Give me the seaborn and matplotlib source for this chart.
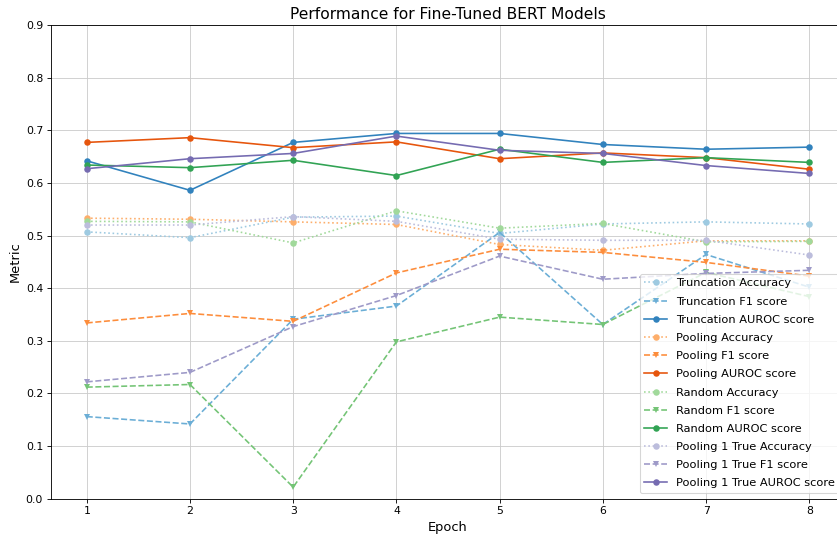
import matplotlib
matplotlib.use('Agg')
import matplotlib.pyplot as plt
import seaborn as sns

epochs = [1, 2, 3, 4, 5, 6, 7, 8]

trunc_acc = [0.507, 0.496, 0.535, 0.537, 0.504, 0.522, 0.526, 0.522]
trunc_f1 = [0.156, 0.142, 0.341, 0.366, 0.506, 0.331, 0.464, 0.402]
trunc_auroc = [0.642, 0.586, 0.677, 0.694, 0.694, 0.673, 0.664, 0.668]

pool_acc = [0.533, 0.531, 0.526, 0.521, 0.483, 0.472, 0.490, 0.490]
pool_f1 = [0.334, 0.352, 0.337, 0.429, 0.474, 0.468, 0.449, 0.423]
pool_auroc = [0.677, 0.686, 0.667, 0.678, 0.646, 0.657, 0.648, 0.626]

rand_acc = [0.527, 0.526, 0.486, 0.547, 0.514, 0.523, 0.488, 0.489]
rand_f1 = [0.212, 0.217, 0.022, 0.298, 0.345, 0.331, 0.430, 0.384]
rand_auroc = [0.634, 0.629, 0.643, 0.614, 0.664, 0.639, 0.648, 0.639]

p1_acc = [0.520, 0.520, 0.536, 0.527, 0.493, 0.491, 0.491, 0.463]
p1_f1 = [0.222, 0.240, 0.327, 0.386, 0.461, 0.417, 0.428, 0.434]
p1_auroc = [0.627, 0.646, 0.656, 0.689, 0.662, 0.656, 0.633, 0.618]

models = ["Truncation", "Pooling", "Random", "Pooling 1 True"]
results = {
    "Truncation": (trunc_acc, trunc_f1, trunc_auroc),
    "Pooling": (pool_acc, pool_f1, pool_auroc),
    "Random": (rand_acc, rand_f1, rand_auroc),
    "Pooling 1 True": (p1_acc, p1_f1, p1_auroc),
}
# tab20c shades: accuracy light, f1 medium, auroc dark
colors = {
    "Truncation": ("#9ecae1", "#6baed6", "#3182bd"),
    "Pooling": ("#fdae6b", "#fd8d3c", "#e6550d"),
    "Random": ("#a1d99b", "#74c476", "#31a354"),
    "Pooling 1 True": ("#bcbddc", "#9e9ac8", "#756bb1"),
}
metric_names = ["Accuracy", "F1 score", "AUROC score"]
styles = [(":", "o"), ("--", "v"), ("-", "o")]

dpi = 78
fig = plt.figure(figsize=(838 / dpi, 537 / dpi), dpi=dpi)
ax = fig.add_axes([0.0604, 0.0713, 0.9484, 0.8821])

for m in models:
    for i, metric in enumerate(metric_names):
        ls, mk = styles[i]
        sns.lineplot(x=epochs, y=results[m][i], ax=ax, color=colors[m][i],
                     linestyle=ls, marker=mk, markersize=6, markeredgewidth=0,
                     linewidth=1.5, label=f"{m} {metric}")

ax.set_xlim(0.65, 8.35)
ax.set_ylim(0, 0.9)
ax.set_xticks(epochs)
ax.grid(True, color="#cccccc", linewidth=0.8)
ax.set_axisbelow(True)
ax.set_title("Performance for Fine-Tuned BERT Models", fontsize=14.3)
ax.set_xlabel("Epoch", fontsize=12)
ax.set_ylabel("Metric", fontsize=12)
ax.legend(loc="lower right", fontsize=10.5, labelspacing=0.72)

fig.savefig("out.png", dpi=dpi)
